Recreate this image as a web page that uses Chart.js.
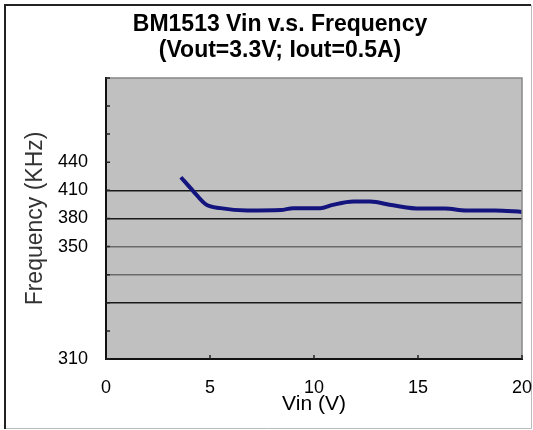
<!DOCTYPE html>
<html>
<head>
<meta charset="utf-8">
<script src="https://cdn.jsdelivr.net/npm/chart.js@4"></script>
<style>
  body { margin: 0; background: #fff; }
  canvas { display: block; }
</style>
</head>
<body>
<canvas id="freq-chart" width="533" height="430"></canvas>
<script>
// Vin vs frequency readings
const vin = [3.6, 4.2, 4.8, 5.5, 6.8, 8.4, 9.0, 10.3, 10.9, 11.9, 12.7, 13.8, 15.1, 16.3, 17.3, 18.7, 20];
const freq = [424, 409, 395, 391, 388.5, 389, 391, 391, 394.5, 398, 398, 394, 390.5, 390.5, 388.5, 388.5, 387];

// y tick labels as printed on the original (sparse)
const yTickValues = [230, 260, 290, 320, 350, 380, 410, 440, 470, 500, 530];
const yTickLabels = ['310', '', '', '', '350', '380', '410', '440', '', '', ''];
const darkGrid = [410, 380, 290];
const lightGrid = [350, 320];

const points = vin.map(function (v, i) { return { x: v, y: freq[i] }; });

// frame, plot background, inner tick marks
const framePlugin = {
    id: 'frame',
    beforeDraw: function (chart) {
        const ctx = chart.ctx;
        const a = chart.chartArea;
        ctx.save();
        ctx.fillStyle = '#fff';
        ctx.fillRect(0, 0, chart.width, chart.height);
        ctx.fillStyle = '#c0c0c0';
        ctx.fillRect(a.left, a.top, a.right - a.left, a.bottom - a.top);
        ctx.strokeStyle = '#bbb';
        ctx.lineWidth = 1;
        ctx.beginPath();
        ctx.moveTo(531.5, 5);
        ctx.lineTo(531.5, 428.5);
        ctx.lineTo(5, 428.5);
        ctx.stroke();
        ctx.strokeStyle = '#222';
        ctx.lineWidth = 2;
        ctx.beginPath();
        ctx.moveTo(5, 429);
        ctx.lineTo(5, 5);
        ctx.lineTo(531, 5);
        ctx.stroke();
        ctx.restore();
    },
    afterDraw: function (chart) {
        const ctx = chart.ctx;
        const a = chart.chartArea;
        const xs = chart.scales.x;
        const ys = chart.scales.y;
        ctx.save();
        ctx.strokeStyle = '#888';
        ctx.lineWidth = 1.5;
        ctx.beginPath();
        ctx.moveTo(a.left, a.top);
        ctx.lineTo(a.right, a.top);
        ctx.lineTo(a.right, a.bottom);
        ctx.stroke();
        ctx.strokeStyle = '#222';
        ctx.lineWidth = 1.5;
        ctx.beginPath();
        yTickValues.forEach(function (v) {
            const py = ys.getPixelForValue(v);
            ctx.moveTo(a.left, py);
            ctx.lineTo(a.left + 4, py);
        });
        [5, 10, 15, 20].forEach(function (v) {
            const px = xs.getPixelForValue(v);
            ctx.moveTo(px, a.bottom);
            ctx.lineTo(px, a.bottom - 4);
        });
        ctx.stroke();
        ctx.restore();
    }
};

new Chart(document.getElementById('freq-chart'), {
    type: 'line',
    data: {
        datasets: [{
            label: 'Frequency',
            data: points,
            borderColor: '#14147e',
            borderWidth: 4,
            pointRadius: 0,
            fill: false,
            cubicInterpolationMode: 'monotone'
        }]
    },
    options: {
        responsive: false,
        animation: false,
        layout: { padding: { top: 5, left: 38, right: 11, bottom: 0 } },
        plugins: {
            legend: { display: false },
            tooltip: { enabled: false },
            title: {
                display: true,
                text: ['BM1513 Vin v.s. Frequency', '(Vout=3.3V; Iout=0.5A)'],
                color: '#000',
                font: { family: 'Liberation Sans, Arial', size: 23, weight: 'bold', lineHeight: 1.15 },
                padding: { top: 6, bottom: 14 }
            }
        },
        scales: {
            x: {
                type: 'linear',
                min: 0,
                max: 20,
                afterFit: function (s) {
                    s.height = 71;
                    s.paddingLeft = 0;
                    s.paddingRight = 0;
                },
                ticks: {
                    stepSize: 5,
                    color: '#000',
                    padding: 18,
                    font: { family: 'Liberation Sans, Arial', size: 18 }
                },
                grid: { display: false, drawTicks: false },
                border: { display: true, color: '#111', width: 2 },
                title: {
                    display: true,
                    text: 'Vin (V)',
                    color: '#000',
                    font: { family: 'Liberation Sans, Arial', size: 21 },
                    padding: { top: 0, bottom: 13 }
                }
            },
            y: {
                min: 230,
                max: 530,
                afterFit: function (s) { s.width = 68; },
                afterBuildTicks: function (s) {
                    s.ticks = yTickValues.map(function (v) { return { value: v }; });
                },
                ticks: {
                    color: '#000',
                    padding: 18,
                    font: { family: 'Liberation Sans, Arial', size: 18 },
                    callback: function (value) {
                        const i = yTickValues.indexOf(value);
                        return i >= 0 ? yTickLabels[i] : '';
                    }
                },
                grid: {
                    drawTicks: false,
                    lineWidth: 1.5,
                    color: function (c) {
                        const v = c.tick ? c.tick.value : null;
                        if (darkGrid.indexOf(v) >= 0) return '#1a1a1a';
                        if (lightGrid.indexOf(v) >= 0) return '#6a6a6a';
                        return 'rgba(0,0,0,0)';
                    }
                },
                border: { display: true, color: '#111', width: 2 },
                title: {
                    display: true,
                    text: 'Frequency (KHz)',
                    color: '#333',
                    font: { family: 'Liberation Sans, Arial', size: 23 },
                    padding: { top: -16, bottom: 0 }
                }
            }
        }
    },
    plugins: [framePlugin]
});
</script>
</body>
</html>
